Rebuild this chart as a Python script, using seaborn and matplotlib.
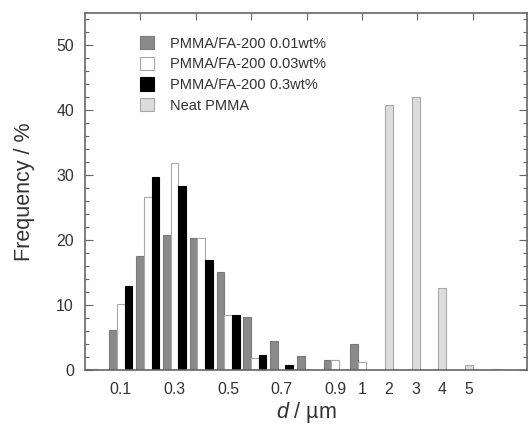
import numpy as np
import pandas as pd
import matplotlib.pyplot as plt
import seaborn as sns
from matplotlib.ticker import MultipleLocator

# --- Datos (distribucion de tamaños, d / um) ---
categories = ["0", "0.1", "0.2", "0.3", "0.4", "0.5", "0.6", "0.7",
              "0.8", "0.9", "1", "2", "3", "4", "5", "6"]
shown_labels = ["0.1", "0.3", "0.5", "0.7", "0.9", "1", "2", "3", "4", "5"]

series_names = ["PMMA/FA-200 0.01wt%", "PMMA/FA-200 0.03wt%",
                "PMMA/FA-200 0.3wt%", "Neat PMMA"]

freq_001 = [0.2, 6.2, 17.5, 20.8, 20.3, 15.1, 8.1, 4.4, 2.2, 1.5, 4.0, 0, 0, 0, 0, 0]
freq_003 = [0.2, 10.2, 26.6, 31.9, 20.3, 8.5, 1.9, 0, 0, 1.5, 1.2, 0, 0, 0, 0, 0]
freq_03 = [0, 13.0, 29.8, 28.3, 17.0, 8.5, 2.3, 0.8, 0, 0, 0, 0, 0, 0, 0, 0]
freq_neat = [0, 0, 0, 0, 0, 0, 0, 0, 0, 0, 0, 40.9, 42.1, 12.7, 0.7, 0.2]

# tabla larga para seaborn (solo los compuestos, van agrupados)
df = pd.DataFrame({
    "d": categories * 3,
    "freq": freq_001 + freq_003 + freq_03,
    "serie": [series_names[0]] * len(categories)
             + [series_names[1]] * len(categories)
             + [series_names[2]] * len(categories),
})

sns.set_theme(style="ticks")
plt.rcParams['font.family'] = ['Liberation Sans', 'DejaVu Sans']
plt.rcParams['mathtext.fontset'] = 'custom'
plt.rcParams['mathtext.it'] = 'Liberation Sans:italic'
plt.rcParams['mathtext.rm'] = 'Liberation Sans'

text_color = "#333333"
frame_color = "#666666"

fig = plt.figure(figsize=(5.28, 4.28), dpi=100)
ax = fig.add_axes([85 / 528, 58 / 428, 442 / 528, 357 / 428])

# barras agrupadas de los compuestos
sns.barplot(data=df, x="d", y="freq", hue="serie", order=categories,
            hue_order=series_names[:3],
            palette=["#8a8a8a", "#ffffff", "#000000"],
            saturation=1, width=0.86, errorbar=None,
            edgecolor="#a0a0a0", linewidth=0.8, legend=False, ax=ax)

# PMMA puro, centrado en cada categoria
sns.barplot(x=categories, y=freq_neat, order=categories, color="#dcdcdc",
            saturation=1, width=0.3, errorbar=None,
            edgecolor="#a8a8a8", linewidth=0.8, ax=ax)

# bordes de cada serie
for cont, ec in zip(ax.containers, ["#7a7a7a", "#a8a8a8", "#000000", "#a8a8a8"]):
    for bar in cont:
        bar.set_edgecolor(ec)

# ejes
ax.set_xlim(-0.34, 16.16)
ax.set_ylim(0, 55)
ax.yaxis.set_major_locator(MultipleLocator(10))
ax.yaxis.set_minor_locator(MultipleLocator(2))
ax.tick_params(axis='y', which='both', direction='in', left=True, right=True,
               color=frame_color, labelcolor=text_color, labelsize=11.4, pad=8)
ax.tick_params(axis='y', which='major', length=6, width=0.8)
ax.tick_params(axis='y', which='minor', length=3, width=0.8)

ax.set_xticks([categories.index(c) for c in shown_labels])
ax.set_xticklabels(shown_labels)
ax.tick_params(axis='x', which='both', length=0, pad=9,
               labelcolor=text_color, labelsize=11.4)

# marcas superiores (solo decorativas, sin etiqueta)
top = ax.twiny()
top.set_xlim(ax.get_xlim())
top.set_xticks(np.arange(1.72, 15, 2.07))
top.tick_params(axis='x', direction='in', length=5, width=0.8,
                color=frame_color, labeltop=False)
for s in top.spines.values():
    s.set_visible(False)

for s in ax.spines.values():
    s.set_visible(True)
    s.set_color(frame_color)
    s.set_linewidth(1.2)

ax.set_xlabel("$d$ / µm", fontsize=15.5, color=text_color, labelpad=2)
ax.set_ylabel("Frequency / %", fontsize=15.5, color=text_color, labelpad=15)

# leyenda
ax.legend(ax.containers, series_names, loc='upper left',
          bbox_to_anchor=(0.124, 0.935), frameon=False, fontsize=10.5,
          handlelength=1.0, handleheight=1.0, handletextpad=1.1,
          labelspacing=0.42, borderpad=0, borderaxespad=0,
          labelcolor=text_color)

fig.savefig("out.png", dpi=100)
plt.close(fig)
